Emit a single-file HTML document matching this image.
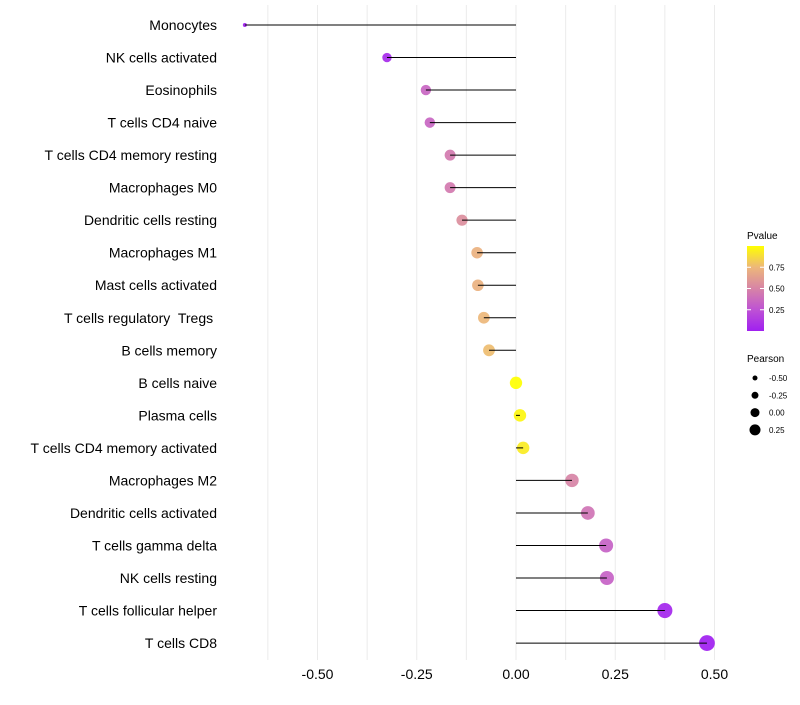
<!DOCTYPE html>
<html><head><meta charset="utf-8"><style>
body{margin:0;background:#fff;font-family:"Liberation Sans",sans-serif}
text{white-space:pre}
</style></head><body>
<svg id="chart" width="800" height="700" xmlns="http://www.w3.org/2000/svg">
<defs><linearGradient id="pg" x1="0" y1="1" x2="0" y2="0">
<stop offset="0" stop-color="#A020F0"/><stop offset="0.25" stop-color="#BE52D4"/><stop offset="0.5" stop-color="#D784A6"/><stop offset="0.75" stop-color="#EDB77A"/><stop offset="1" stop-color="#FFFF00"/></linearGradient></defs>
<g id="grid"></g><g id="marks"></g><g id="labels"></g>
<g>
<text x="747" y="239" font-size="10">Pvalue</text>
<rect x="747" y="246" width="17" height="85" fill="url(#pg)"/>
<g id="cbticks"></g>
</g>
<g>
<text x="747" y="362" font-size="10">Pearson</text>
<g id="sizeleg"></g>
</g>
</svg>
<script>
const categories=["Monocytes","NK cells activated","Eosinophils","T cells CD4 naive","T cells CD4 memory resting","Macrophages M0","Dendritic cells resting","Macrophages M1","Mast cells activated","T cells regulatory  Tregs ","B cells memory","B cells naive","Plasma cells","T cells CD4 memory activated","Macrophages M2","Dendritic cells activated","T cells gamma delta","NK cells resting","T cells follicular helper","T cells CD8"];
const pearson=[-0.683,-0.325,-0.227,-0.217,-0.166,-0.166,-0.136,-0.098,-0.096,-0.081,-0.068,0.0,0.01,0.018,0.141,0.181,0.227,0.229,0.375,0.481];
const pvalue=[0.0,0.05,0.35,0.35,0.45,0.45,0.55,0.72,0.72,0.75,0.77,1.0,0.97,0.93,0.5,0.42,0.33,0.33,0.03,0.0];
const xTicks=[-0.5,-0.25,0,0.25,0.5];
const xTickLabels=["-0.50","-0.25","0.00","0.25","0.50"];
const cbTicks=[0.25,0.5,0.75];
const sizeTicks=[-0.5,-0.25,0,0.25];
const sizeTickLabels=["-0.50","-0.25","0.00","0.25"];

const NS="http://www.w3.org/2000/svg";
const x=v=>516+397*v;
const y=i=>25+i*32.53;
const r=v=>Math.sqrt(Math.max(1,4+50*(v+0.683)));
const rl=v=>4.5+4*v;
const stops=[[160,32,240],[190,82,212],[215,132,166],[237,183,122],[255,255,0]];
function col(p){p=Math.max(0,Math.min(1,p));const t=p*4,i=Math.min(3,Math.floor(t)),f=t-i;const a=stops[i],b=stops[i+1];return `rgb(${a.map((c,k)=>Math.round(c+(b[k]-c)*f)).join(",")})`;}
function mk(tag,attrs,parent,txt){const e=document.createElementNS(NS,tag);for(const k in attrs)e.setAttribute(k,attrs[k]);if(txt!==undefined)e.textContent=txt;parent.appendChild(e);return e;}
const grid=document.getElementById('grid'),marks=document.getElementById('marks'),labels=document.getElementById('labels');
for(let v=-0.625;v<=0.5001;v+=0.125){const l=mk('line',{x1:x(v),x2:x(v),y1:5,y2:660,stroke:'#ebebeb','stroke-width':1},grid);

}
xTicks.forEach((v,i)=>{const t=mk('text',{x:x(v),y:679,'font-size':14,'text-anchor':'middle',fill:'#000'},labels,xTickLabels[i]);

});
categories.forEach((c,i)=>{
const t=mk('text',{x:217,y:y(i)+5,'font-size':14,'text-anchor':'end',fill:'#000'},labels,c);


const pt=mk('circle',{cx:x(pearson[i]),cy:y(i),r:r(pearson[i]),fill:col(pvalue[i]),'fill-opacity':0.92},marks);


const s=mk('line',{x1:x(0),x2:x(pearson[i]),y1:y(i),y2:y(i),stroke:'#000','stroke-width':1},marks);


});
const cb=document.getElementById('cbticks');
cbTicks.forEach(v=>{const yy=331-85*v;
const t=mk('text',{x:769,y:yy+3,'font-size':8},cb,v.toFixed(2));


mk('line',{x1:747,x2:751,y1:yy,y2:yy,stroke:'#fff'},cb);mk('line',{x1:760,x2:764,y1:yy,y2:yy,stroke:'#fff'},cb);});
const sl=document.getElementById('sizeleg');
sizeTicks.forEach((v,i)=>{const yy=378+17.3*i;
const c=mk('circle',{cx:755,cy:yy,r:rl(v),fill:'#000'},sl);


const t=mk('text',{x:769,y:yy+3,'font-size':8},sl,sizeTickLabels[i]);

});
</script>
</body></html>
